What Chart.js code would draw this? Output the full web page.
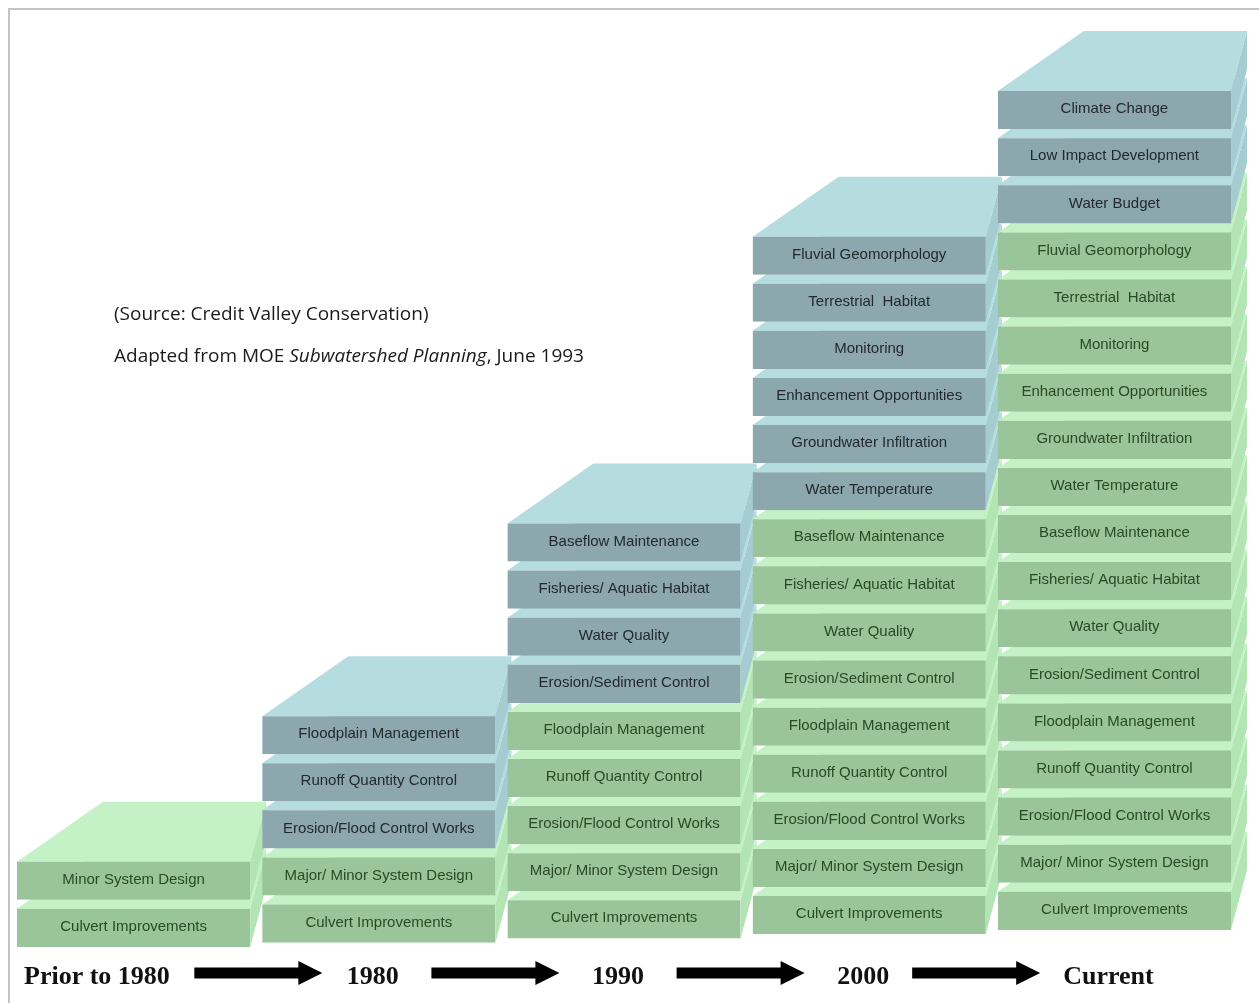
<!DOCTYPE html>
<html>
<head>
<meta charset="utf-8">
<script src="https://cdn.jsdelivr.net/npm/chart.js@4/dist/chart.umd.min.js"></script>
<style>
  html, body { margin: 0; padding: 0; background: #ffffff; }
  #wrap { position: relative; width: 1259px; height: 1003px; }
  canvas { display: block; }
</style>
</head>
<body>
<div id="wrap"><canvas id="c" width="1259" height="1003"></canvas></div>
<script>
// ---------------- DATA ----------------
const periods = ['Prior to 1980', '1980', '1990', '2000', 'Current'];

const itemsPrior1980 = ['Culvert Improvements', 'Minor System Design'];
const items1980 = ['Culvert Improvements', 'Major/ Minor System Design', 'Erosion/Flood Control Works',
  'Runoff Quantity Control', 'Floodplain Management'];
const items1990 = ['Culvert Improvements', 'Major/ Minor System Design', 'Erosion/Flood Control Works',
  'Runoff Quantity Control', 'Floodplain Management', 'Erosion/Sediment Control', 'Water Quality',
  'Fisheries/ Aquatic Habitat', 'Baseflow Maintenance'];
const items2000 = ['Culvert Improvements', 'Major/ Minor System Design', 'Erosion/Flood Control Works',
  'Runoff Quantity Control', 'Floodplain Management', 'Erosion/Sediment Control', 'Water Quality',
  'Fisheries/ Aquatic Habitat', 'Baseflow Maintenance', 'Water Temperature', 'Groundwater Infiltration',
  'Enhancement Opportunities', 'Monitoring', 'Terrestrial  Habitat', 'Fluvial Geomorphology'];
const itemsCurrent = ['Culvert Improvements', 'Major/ Minor System Design', 'Erosion/Flood Control Works',
  'Runoff Quantity Control', 'Floodplain Management', 'Erosion/Sediment Control', 'Water Quality',
  'Fisheries/ Aquatic Habitat', 'Baseflow Maintenance', 'Water Temperature', 'Groundwater Infiltration',
  'Enhancement Opportunities', 'Monitoring', 'Terrestrial  Habitat', 'Fluvial Geomorphology',
  'Water Budget', 'Low Impact Development', 'Climate Change'];

// number of items newly added in each period (drawn in blue at the top of each stack)
const newItemCounts = [0, 3, 4, 6, 3];

const sourceLine = '(Source: Credit Valley Conservation)';
const adaptedParts = [['Adapted from MOE ', false], ['Subwatershed Planning', true], [', June 1993', false]];

// ---------------- BUILD ----------------
const columns = [itemsPrior1980, items1980, items1990, items2000, itemsCurrent];
const maxLevels = Math.max(...columns.map(c => c.length));

const COLORS = {
  green: { front: '#9ac499', top: '#c4f1c6', side: '#b3e4b4', text: '#284a29' },
  blue:  { front: '#8ca8ae', top: '#b5dde0', side: '#a4ccd1', text: '#23292c' }
};
const GAP = 9;          // visible slab gap (pixels)
const DEPTH_Y = 60;     // depth of top face
const DEPTH_XL = 86;    // perspective shift at left
const DEPTH_XR = 16;    // perspective shift at right
const RISE = -0.0173;   // perspective: each stack sits slightly higher further right

function isNew(col, level) {
  return level >= columns[col].length - newItemCounts[col];
}

const datasets = [];
for (let lv = 0; lv < maxLevels; lv++) {
  datasets.push({
    label: 'Level ' + (lv + 1),
    data: columns.map(items => (lv < items.length ? 1 : null)),
    backgroundColor: columns.map((items, c) => isNew(c, lv) ? COLORS.blue.front : COLORS.green.front),
    borderColor: 'rgba(0,0,0,0)',
    borderWidth: { top: GAP, right: 0, bottom: 0, left: 0 },
    borderSkipped: false,
    clip: false,
    stack: 's'
  });
}

// ---------------- PLUGINS ----------------
const framePlugin = {
  id: 'frame',
  beforeDraw(chart) {
    const ctx = chart.ctx;
    ctx.save();
    ctx.fillStyle = '#ffffff';
    ctx.fillRect(0, 0, chart.width, chart.height);
    ctx.strokeStyle = '#c4c4c4';
    ctx.lineWidth = 2;
    ctx.beginPath();
    ctx.moveTo(9, chart.height);
    ctx.lineTo(9, 9);
    ctx.lineTo(chart.width, 9);
    ctx.stroke();
    // source notes
    ctx.fillStyle = '#1a1a1a';
    ctx.textBaseline = 'middle';
    ctx.textAlign = 'left';
    ctx.font = '19px "Open Sans", "Liberation Sans", sans-serif';
    ctx.fillText(sourceLine, 114, 315);
    let x = 114;
    adaptedParts.forEach(([t, it]) => {
      ctx.font = (it ? 'italic ' : '') + '19px "Open Sans", "Liberation Sans", sans-serif';
      ctx.fillText(t, x, 357);
      x += ctx.measureText(t).width;
    });
    ctx.restore();
  }
};

function poly(ctx, pts, fill) {
  ctx.beginPath();
  ctx.moveTo(pts[0][0], pts[0][1]);
  for (let k = 1; k < pts.length; k++) ctx.lineTo(pts[k][0], pts[k][1]);
  ctx.closePath();
  ctx.fillStyle = fill;
  ctx.fill();
}

const block3dPlugin = {
  id: 'block3d',
  afterDatasetsUpdate(chart) {
    // perspective: lift each stack a little, proportionally to its distance from the left
    const x0 = chart.chartArea.left;
    chart.data.datasets.forEach((ds, i) => {
      chart.getDatasetMeta(i).data.forEach(el => {
        const dy = RISE * (el.x - x0);
        el.y += dy;
        el.base += dy;
      });
    });
  },
  beforeDatasetsDraw(chart) {
    const ctx = chart.ctx;
    ctx.save();
    for (let c = 0; c < periods.length; c++) {
      for (let lv = 0; lv < chart.data.datasets.length; lv++) {
        if (chart.data.datasets[lv].data[c] == null) continue;
        const el = chart.getDatasetMeta(lv).data[c];
        const L = el.x - el.width / 2, R = el.x + el.width / 2;
        const top = el.y + GAP, bot = el.base;
        const col = isNew(c, lv) ? COLORS.blue : COLORS.green;
        // right side face
        poly(ctx, [[R, bot], [R, top], [R + DEPTH_XR, top - DEPTH_Y], [R + DEPTH_XR, bot - DEPTH_Y]], col.side);
        // top face
        poly(ctx, [[L, top], [R, top], [R + DEPTH_XR, top - DEPTH_Y], [L + DEPTH_XL, top - DEPTH_Y]], col.top);
      }
    }
    ctx.restore();
  },
  afterDatasetsDraw(chart) {
    const ctx = chart.ctx;
    ctx.save();
    ctx.textAlign = 'center';
    ctx.textBaseline = 'middle';
    ctx.font = '15px "Liberation Sans", Arial, sans-serif';
    for (let c = 0; c < periods.length; c++) {
      columns[c].forEach((label, lv) => {
        const el = chart.getDatasetMeta(lv).data[c];
        const col = isNew(c, lv) ? COLORS.blue : COLORS.green;
        ctx.fillStyle = col.text;
        ctx.fillText(label, el.x, (el.y + GAP + el.base) / 2 - 1);
      });
    }
    ctx.restore();
  },
  afterDraw(chart) {
    // timeline along the bottom
    const ctx = chart.ctx;
    const xs = chart.scales.x;
    const y = 977;
    ctx.save();
    ctx.font = 'bold 26px "Liberation Serif", "Times New Roman", serif';
    ctx.fillStyle = '#111111';
    ctx.textBaseline = 'middle';
    const boxes = [];
    periods.forEach((p, i) => {
      const w = ctx.measureText(p).width;
      const meta = chart.getDatasetMeta(0).data[i];
      let left;
      if (i === 0) left = meta.x - meta.width / 2 + 7;
      else left = xs.getPixelForValue(i) - w / 2 - 6;
      ctx.textAlign = 'left';
      ctx.fillText(p, left, y);
      boxes.push([left, left + w]);
    });
    // arrows
    ctx.fillStyle = '#000000';
    for (let i = 0; i < boxes.length - 1; i++) {
      const mid = (boxes[i][1] + boxes[i + 1][0]) / 2;
      const len = 128, x0 = mid - len / 2, x1 = mid + len / 2;
      const headL = 24, shaftH = 11, headH = 24;
      const ay = y - 4;
      ctx.beginPath();
      ctx.moveTo(x0, ay - shaftH / 2);
      ctx.lineTo(x1 - headL, ay - shaftH / 2);
      ctx.lineTo(x1 - headL, ay - headH / 2);
      ctx.lineTo(x1, ay);
      ctx.lineTo(x1 - headL, ay + headH / 2);
      ctx.lineTo(x1 - headL, ay + shaftH / 2);
      ctx.lineTo(x0, ay + shaftH / 2);
      ctx.closePath();
      ctx.fill();
    }
    ctx.restore();
  }
};

// ---------------- CHART ----------------
new Chart(document.getElementById('c'), {
  type: 'bar',
  data: { labels: periods, datasets },
  options: {
    responsive: false,
    animation: false,
    layout: { padding: { left: 11, right: 22, top: 7, bottom: 54 } },
    plugins: { legend: { display: false }, tooltip: { enabled: false } },
    scales: {
      x: { display: false, stacked: true, grid: { display: false } },
      y: { display: false, stacked: true, min: 0, max: 20 }
    },
    datasets: { bar: { categoryPercentage: 1.0, barPercentage: 0.951 } }
  },
  plugins: [framePlugin, block3dPlugin]
});
</script>
</body>
</html>
